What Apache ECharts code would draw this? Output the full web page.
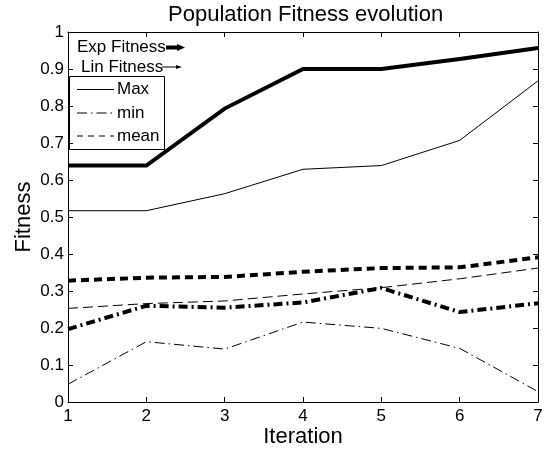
<!DOCTYPE html>
<html>
<head>
<meta charset="utf-8">
<script src="https://cdn.jsdelivr.net/npm/echarts@6/dist/echarts.min.js"></script>
<style>
  html, body { margin: 0; padding: 0; background: #fff; }
  #chart { width: 544px; height: 453px; }
</style>
</head>
<body>
<div id="chart"></div>
<script>
// Iterations on the x axis
const iterations = [1, 2, 3, 4, 5, 6, 7];

// Exponential fitness scaling
const expMax  = [0.639, 0.639, 0.793, 0.900, 0.900, 0.927, 0.957];
const expMin  = [0.197, 0.260, 0.255, 0.269, 0.308, 0.243, 0.267];
const expMean = [0.328, 0.336, 0.338, 0.352, 0.362, 0.364, 0.391];

// Linear fitness scaling
const linMax  = [0.517, 0.517, 0.563, 0.629, 0.639, 0.707, 0.868];
const linMin  = [0.048, 0.163, 0.143, 0.216, 0.199, 0.145, 0.028];
const linMean = [0.253, 0.266, 0.273, 0.292, 0.309, 0.333, 0.362];

const yTicks = [0, 0.1, 0.2, 0.3, 0.4, 0.5, 0.6, 0.7, 0.8, 0.9, 1];

const FONT = '"Liberation Sans", Arial, Helvetica, sans-serif';

const pairs = vals => iterations.map((x, i) => [x, vals[i]]);

const THICK = 4, THIN = 1;
const DASH = { thick: [8, 5], thin: [10, 5] };
const DASHDOT = { thick: [9, 4, 2, 4], thin: [10, 4, 1.5, 4] };

function lineSeries(name, vals, width, type) {
  return {
    name, type: 'line', data: pairs(vals), symbol: 'none', silent: true,
    animation: false,
    lineStyle: { color: '#000', width, type, cap: 'butt', join: 'miter' }
  };
}

const chart = echarts.init(document.getElementById('chart'), null, { renderer: 'canvas' });

const tickStyle = { inside: true, length: 5, lineStyle: { color: '#000', width: 1 } };
const lineAxis = { show: true, onZero: false, lineStyle: { color: '#000', width: 1 } };

const legendX = 69, legendY = 76, legendW = 95, legendH = 73;
const sampleX1 = 77, sampleX2 = 114, textX = 117;
const rowY = [89.5, 113, 136];

chart.setOption({
  animation: false,
  backgroundColor: '#fff',
  grid: { left: 68, right: 6, top: 32, bottom: 51, containLabel: false, outerBoundsMode: 'none' },
  xAxis: [
    {
      type: 'value', min: 1, max: 7, interval: 1, position: 'bottom',
      axisLine: lineAxis, axisTick: tickStyle, splitLine: { show: false },
      axisLabel: { color: '#000', fontFamily: FONT, fontSize: 17, margin: 6 },
      name: 'Iteration', nameLocation: 'middle', nameGap: 24, nameMoveOverlap: false,
      nameTextStyle: { color: '#000', fontFamily: FONT, fontSize: 22 }
    },
    {
      type: 'value', min: 1, max: 7, interval: 1, position: 'top',
      axisLine: lineAxis, axisTick: tickStyle, splitLine: { show: false },
      axisLabel: { show: false }
    }
  ],
  yAxis: [
    {
      type: 'value', min: yTicks[0], max: yTicks[yTicks.length - 1], interval: 0.1,
      position: 'left',
      axisLine: lineAxis, axisTick: tickStyle, splitLine: { show: false },
      axisLabel: { color: '#000', fontFamily: FONT, fontSize: 17, margin: 4 },
      name: 'Fitness', nameLocation: 'middle', nameGap: 33, nameMoveOverlap: false,
      nameTextStyle: { color: '#000', fontFamily: FONT, fontSize: 22 }
    },
    {
      type: 'value', min: 0, max: 1, interval: 0.1, position: 'right',
      axisLine: lineAxis, axisTick: tickStyle, splitLine: { show: false },
      axisLabel: { show: false }
    }
  ],
  series: [
    lineSeries('Exp Max', expMax, THICK, 'solid'),
    lineSeries('Exp min', expMin, THICK, DASHDOT.thick),
    lineSeries('Exp mean', expMean, THICK, DASH.thick),
    lineSeries('Lin Max', linMax, THIN, 'solid'),
    lineSeries('Lin min', linMin, THIN, DASHDOT.thin),
    lineSeries('Lin mean', linMean, THIN, DASH.thin)
  ],
  graphic: [
    // Title
    {
      type: 'text', left: 168, top: 4, silent: true,
      style: { text: 'Population Fitness evolution', font: '22px ' + FONT, fill: '#000' }
    },
    // Scaling annotations with arrows
    {
      type: 'text', x: 77, y: 47.5, silent: true,
      style: { text: 'Exp Fitness', font: '17px ' + FONT, fill: '#000', verticalAlign: 'middle' }
    },
    {
      type: 'line', silent: true,
      shape: { x1: 166, y1: 47.5, x2: 178, y2: 47.5 },
      style: { stroke: '#000', lineWidth: 4 }
    },
    {
      type: 'polygon', silent: true,
      shape: { points: [[177, 44], [185, 47.5], [177, 51]] },
      style: { fill: '#000' }
    },
    {
      type: 'text', x: 81, y: 67, silent: true,
      style: { text: 'Lin Fitness', font: '17px ' + FONT, fill: '#000', verticalAlign: 'middle' }
    },
    {
      type: 'line', silent: true,
      shape: { x1: 162, y1: 67, x2: 177, y2: 67 },
      style: { stroke: '#000', lineWidth: 1 }
    },
    {
      type: 'polygon', silent: true,
      shape: { points: [[176, 65], [182, 67], [176, 69]] },
      style: { fill: '#000' }
    },
    // Line-style legend box
    {
      type: 'rect', silent: true,
      shape: { x: legendX + 0.5, y: legendY + 0.5, width: legendW, height: legendH },
      style: { fill: '#fff', stroke: '#000', lineWidth: 1 }
    },
    {
      type: 'line', silent: true,
      shape: { x1: sampleX1, y1: rowY[0], x2: sampleX2, y2: rowY[0] },
      style: { stroke: '#000', lineWidth: 1 }
    },
    {
      type: 'line', silent: true,
      shape: { x1: sampleX1, y1: rowY[1], x2: sampleX2, y2: rowY[1] },
      style: { stroke: '#000', lineWidth: 1, lineDash: DASHDOT.thin }
    },
    {
      type: 'line', silent: true,
      shape: { x1: sampleX1, y1: rowY[2], x2: sampleX2, y2: rowY[2] },
      style: { stroke: '#000', lineWidth: 1, lineDash: [6, 5] }
    },
    {
      type: 'text', x: textX, y: rowY[0], silent: true,
      style: { text: 'Max', font: '17px ' + FONT, fill: '#000', verticalAlign: 'middle' }
    },
    {
      type: 'text', x: textX, y: rowY[1], silent: true,
      style: { text: 'min', font: '17px ' + FONT, fill: '#000', verticalAlign: 'middle' }
    },
    {
      type: 'text', x: textX, y: rowY[2], silent: true,
      style: { text: 'mean', font: '17px ' + FONT, fill: '#000', verticalAlign: 'middle' }
    }
  ]
});
</script>
</body>
</html>
